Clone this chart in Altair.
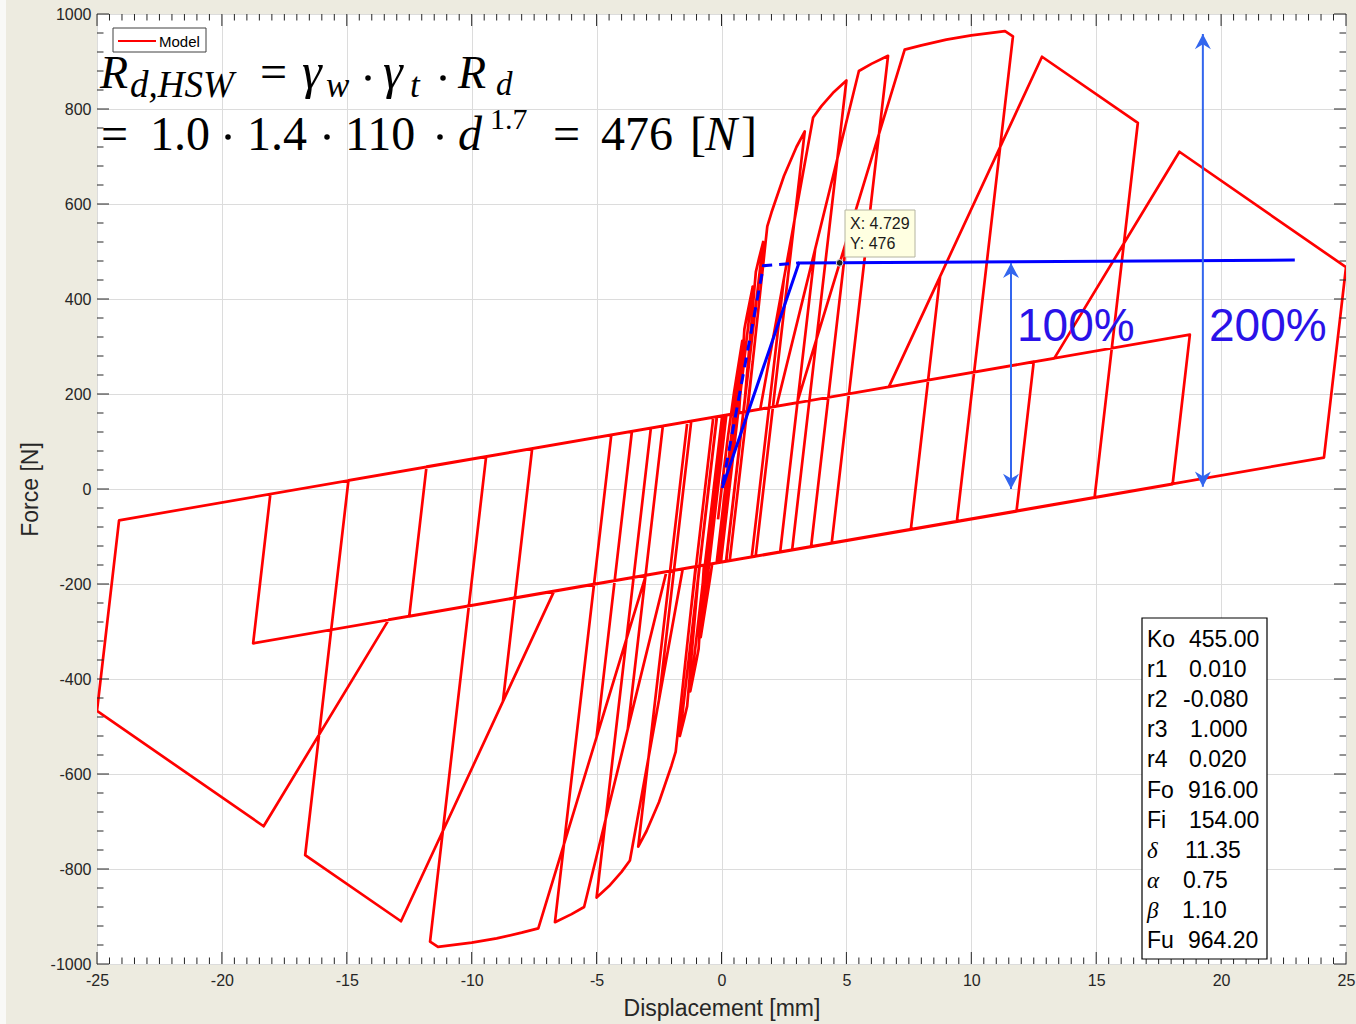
import altair as alt
import pandas as pd

# ------------------------------------------------------------------
# Data
# ------------------------------------------------------------------
# Hysteresis path (displacement [mm], force [N]) in drawing order
hyst_points = [
    (-0.14, -64), (0, 0), (0.25, 107), (0.5, 202), (0.833, 312),
    (-0.195, -156), (-0.37, -157), (-0.5, -202), (-0.833, -312),
    (0.195, 156), (0.702, 160), (0.833, 268),
    (-0.096, -155), (-0.702, -160), (-0.833, -268),
    (0.096, 155), (0.702, 160), (0.917, 337), (1.0, 360), (1.25, 426),
    (-0.025, -154), (-0.702, -160), (-0.917, -337), (-1.0, -360), (-1.25, -426),
    (0.025, 154), (0.889, 162), (0.9375, 191),
    (0.182, -152), (-0.889, -162), (-0.9375, -191),
    (-0.182, 152), (0.889, 162), (1.375, 457), (1.5, 485), (1.667, 520),
    (0.190, -152), (-0.889, -162), (-1.375, -457), (-1.5, -485), (-1.667, -520),
    (-0.190, 152), (1.036, 163), (1.25, 268),
    (0.329, -151), (-1.036, -163), (-1.25, -268),
    (-0.329, 151), (1.036, 163), (1.833, 553), (2.0, 582), (2.5, 659), (3.0, 720), (3.333, 753),
    (1.367, -142), (-1.036, -163), (-1.833, -553), (-2.0, -582), (-2.5, -659), (-3.0, -720), (-3.333, -753),
    (-1.367, 142), (1.551, 168), (2.5, 443),
    (1.211, -143), (-1.551, -168), (-2.5, -443),
    (-1.211, 143), (1.551, 168), (3.667, 782), (4.0, 806), (4.5, 836), (5.0, 860),
    (2.828, -128), (-1.551, -168), (-3.667, -782), (-4.0, -806), (-4.5, -836), (-5.0, -860),
    (-2.828, 128), (2.203, 174), (3.75, 505),
    (2.348, -133), (-2.203, -174), (-3.75, -505),
    (-2.348, 133), (2.203, 174), (5.5, 880), (6.0, 895), (6.667, 912),
    (4.412, -114), (-2.203, -174), (-5.5, -880), (-6.0, -895), (-6.667, -912),
    (-4.412, 114), (3.029, 182), (5.0, 522),
    (3.587, -121), (-3.029, -182), (-5.0, -522),
    (-3.587, 121), (3.029, 182), (7.333, 925), (8.0, 934), (9.0, 946), (10.0, 955),
    (11.35, 964), (11.667, 953),
    (9.423, -68), (-3.029, -182), (-7.333, -925), (-8.0, -934), (-9.0, -946), (-10.0, -955),
    (-11.35, -964), (-11.667, -953),
    (-9.423, 68), (6.70, 215), (8.75, 447),
    (7.580, -85), (-6.70, -215), (-8.75, -447),
    (-7.580, 85), (6.70, 215), (12.83, 910), (16.667, 771),
    (14.934, -18), (-6.70, -215), (-12.83, -910), (-16.667, -771),
    (-14.934, 18), (12.5, 268),
    (11.809, -47), (-12.5, -268),
    (-11.809, 47), (13.32, 275), (18.33, 710), (25.0, 467),
    (24.117, 66), (-13.32, -275), (-18.33, -710), (-25.0, -467),
    (-24.117, -66), (18.75, 325),
    (18.059, 10), (-18.75, -325),
    (-18.059, -10),
]

blue_solid_d = [0.03, 3.10, 22.95]
blue_solid_f = [2, 476, 482]
blue_dash_d = [0.05, 1.68, 3.10]
blue_dash_f = [10, 470, 476]

tip_d = [4.729]
tip_f = [476]

arrow_d = [11.59, 19.27]
arrow_lo = [0, 5]
arrow_hi = [476, 958]

param_labels = ["Ko", "r1", "r2", "r3", "r4", "Fo", "Fi", "δ", "α", "β", "Fu"]
param_values = ["455.00", "0.010", "-0.080", "1.000", "0.020", "916.00",
                "154.00", "11.35", "0.75", "1.10", "964.20"]

x_major = list(range(-25, 26, 5))
y_major = list(range(-1000, 1001, 200))
x_minor = [v / 2 for v in range(-50, 51) if v % 10 != 0]
y_minor = [v for v in range(-1000, 1001, 40) if v % 200 != 0]

# ------------------------------------------------------------------
# Layout
# ------------------------------------------------------------------
W, H = 1249, 950
X0, Y0 = 97, 14          # page position of the plot area
SANS = "Liberation Sans"
SERIF = "Liberation Serif"
AXC = "#262626"

xs = alt.Scale(domain=[-25, 25], nice=False, zero=False)
ys = alt.Scale(domain=[-1000, 1000], nice=False, zero=False)
x_axis = alt.Axis(values=x_major, grid=True, ticks=False, domain=False,
                  labelExpr="'' + datum.value", title="Displacement [mm]",
                  labelFlush=False, labelPadding=8, titlePadding=9)
y_axis = alt.Axis(values=y_major, grid=True, ticks=False, domain=False,
                  labelExpr="'' + datum.value", title="Force [N]",
                  labelFlush=False, labelPadding=6, titlePadding=8)
one = pd.DataFrame({"k": [0]})


def X(field):
    return alt.X(field, scale=xs, axis=x_axis)


def Y(field):
    return alt.Y(field, scale=ys, axis=y_axis)


def text_at(s, px, py, size, font=SANS, italic=False, color="#000000", align="left"):
    return alt.Chart(one).mark_text(
        text=s, font=font, fontSize=size, fontStyle="italic" if italic else "normal",
        color=color, align=align, baseline="alphabetic"
    ).encode(x=alt.value(px - X0), y=alt.value(py - Y0))


def box(x1, y1, x2, y2, fill, stroke, sw=1.0):
    return alt.Chart(one).mark_rect(fill=fill, stroke=stroke, strokeWidth=sw).encode(
        x=alt.value(x1 - X0), x2=alt.value(x2 - X0), y=alt.value(y1 - Y0), y2=alt.value(y2 - Y0)
    )


def dot(px, py, size=30):
    return alt.Chart(one).mark_point(filled=True, color="#000000", size=size, opacity=1).encode(
        x=alt.value(px - X0), y=alt.value(py - Y0)
    )


layers = []

# thin light strip at the far left edge of the figure
layers.append(alt.Chart(one).mark_rect(fill="#f9f9f7", strokeWidth=0).encode(
    x=alt.value(0 - X0), x2=alt.value(6 - X0), y=alt.value(0 - Y0), y2=alt.value(1024 - Y0)))

# main hysteresis line
hyst_df = pd.DataFrame({
    "d": [p[0] for p in hyst_points],
    "f": [p[1] for p in hyst_points],
    "i": list(range(len(hyst_points))),
})
layers.append(alt.Chart(hyst_df).mark_line(
    color="#ff0000", strokeWidth=2.7, strokeJoin="round", clip=True
).encode(x=X("d:Q"), y=Y("f:Q"), order="i:Q"))


# ticks (inward, all four sides)
def tick_layers(vals, length):
    d = pd.DataFrame({"v": vals})
    return [
        alt.Chart(d).mark_rule(color=AXC, strokeWidth=1).encode(
            x=X("v:Q"), y=alt.value(H), y2=alt.value(H - length)),
        alt.Chart(d).mark_rule(color=AXC, strokeWidth=1).encode(
            x=X("v:Q"), y=alt.value(0), y2=alt.value(length)),
    ]


def ytick_layers(vals, length):
    d = pd.DataFrame({"v": vals})
    return [
        alt.Chart(d).mark_rule(color=AXC, strokeWidth=1).encode(
            y=Y("v:Q"), x=alt.value(0), x2=alt.value(length)),
        alt.Chart(d).mark_rule(color=AXC, strokeWidth=1).encode(
            y=Y("v:Q"), x=alt.value(W), x2=alt.value(W - length)),
    ]


layers += tick_layers(x_major, 12) + tick_layers(x_minor, 6.5)
layers += ytick_layers(y_major, 12) + ytick_layers(y_minor, 6.5)

# blue bilinear lines
bs = pd.DataFrame({"d": blue_solid_d, "f": blue_solid_f, "i": [0, 1, 2]})
bd = pd.DataFrame({"d": blue_dash_d, "f": blue_dash_f, "i": [0, 1, 2]})
layers.append(alt.Chart(bs).mark_line(color="#0000ff", strokeWidth=3).encode(
    x=X("d:Q"), y=Y("f:Q"), order="i:Q"))
layers.append(alt.Chart(bd).mark_line(color="#0000ff", strokeWidth=3, strokeDash=[10, 7]).encode(
    x=X("d:Q"), y=Y("f:Q"), order="i:Q"))

# arrows
ARC = "#3366ee"
adf = pd.DataFrame({"d": arrow_d, "lo": arrow_lo, "hi": arrow_hi})
layers.append(alt.Chart(adf).mark_rule(color=ARC, strokeWidth=2).encode(
    x=X("d:Q"), y=Y("lo:Q"), y2="hi:Q"))
up_head = "M0,0 L1,1.9 L0,1.3 L-1,1.9 Z"
down_head = "M0,0 L1,-1.9 L0,-1.3 L-1,-1.9 Z"
layers.append(alt.Chart(adf).mark_point(shape=up_head, filled=True, color=ARC, size=256, opacity=1).encode(
    x=X("d:Q"), y=Y("hi:Q")))
layers.append(alt.Chart(adf).mark_point(shape=down_head, filled=True, color=ARC, size=256, opacity=1).encode(
    x=X("d:Q"), y=Y("lo:Q")))

# percentage labels
PCT = "#2a12e8"
layers.append(text_at("100%", 1017, 341, 46, color=PCT))
layers.append(text_at("200%", 1209, 341, 46, color=PCT))

# data tip
tdf = pd.DataFrame({"d": tip_d, "f": tip_f})
layers.append(alt.Chart(tdf).mark_point(filled=True, fill="#222222", stroke="#dddddd",
                                        strokeWidth=1, size=45, opacity=1).encode(
    x=X("d:Q"), y=Y("f:Q")))
layers.append(box(845, 210, 915, 257, "#ffffe1", "#b4b4a0", 1))
layers.append(text_at("X: 4.729", 850, 229, 16, color="#1a1a1a"))
layers.append(text_at("Y: 476", 850, 249, 16, color="#1a1a1a"))

# legend
layers.append(box(113, 28, 206, 52, "#ffffff", "#404040", 1))
layers.append(alt.Chart(one).mark_rule(color="#ff0000", strokeWidth=2).encode(
    x=alt.value(118 - X0), x2=alt.value(156 - X0), y=alt.value(41 - Y0)))
layers.append(text_at("Model", 159, 47, 15))

# equation, line 1
layers.append(text_at("R", 100, 88, 46, font=SERIF, italic=True))
layers.append(text_at("d,HSW", 130, 97, 37, font=SERIF, italic=True))
layers.append(text_at("=", 260, 88, 48, font=SERIF))
layers.append(text_at("γ", 302, 88, 50, font=SERIF, italic=True))
layers.append(text_at("w", 326, 97, 35, font=SERIF, italic=True))
layers.append(dot(368, 78))
layers.append(text_at("γ", 383, 88, 50, font=SERIF, italic=True))
layers.append(text_at("t", 410, 97, 35, font=SERIF, italic=True))
layers.append(dot(443, 78))
layers.append(text_at("R", 458, 88, 46, font=SERIF, italic=True))
layers.append(text_at("d", 496, 95, 33, font=SERIF, italic=True))

# equation, line 2
layers.append(text_at("=", 101, 150, 48, font=SERIF))
layers.append(text_at("1.0", 150, 150, 48, font=SERIF))
layers.append(dot(228, 137))
layers.append(text_at("1.4", 247, 150, 48, font=SERIF))
layers.append(dot(327, 137))
layers.append(text_at("110", 345, 150, 48, font=SERIF))
layers.append(dot(440, 137))
layers.append(text_at("d", 458, 150, 48, font=SERIF, italic=True))
layers.append(text_at("1.7", 490, 129, 30, font=SERIF))
layers.append(text_at("=", 553, 150, 48, font=SERIF))
layers.append(text_at("476", 601, 150, 48, font=SERIF))
layers.append(text_at("[", 690, 150, 48, font=SERIF))
layers.append(text_at("N", 705, 150, 48, font=SERIF, italic=True))
layers.append(text_at("]", 741, 150, 48, font=SERIF))

# parameter box
layers.append(box(1142, 618, 1267, 959, "#ffffff", "#000000", 1.2))
value_x = [1189, 1189, 1183, 1190, 1189, 1188, 1189, 1185, 1183, 1182, 1188]
for k, (lab, val) in enumerate(zip(param_labels, param_values)):
    base = 647 + 30.1 * k
    greek = lab in ("δ", "α", "β")
    layers.append(text_at(lab, 1147, base, 23, font=SERIF if greek else SANS, italic=greek))
    layers.append(text_at(val, value_x[k], base, 23))

chart = alt.layer(*layers).properties(
    width=W, height=H,
    autosize=alt.AutoSizeParams(type="none"),
    padding={"left": X0, "top": Y0, "right": 1356 - X0 - W, "bottom": 1024 - Y0 - H},
    background="#edebe0",
).configure_view(
    fill="#ffffff", stroke=AXC, strokeWidth=1
).configure_axis(
    labelFont=SANS, labelFontSize=16, labelColor=AXC,
    titleFont=SANS, titleFontSize=23, titleFontWeight="normal", titleColor=AXC,
    gridColor="#dcdcdc", gridWidth=1, gridOpacity=1,
)

chart.save("out.html", embed_options={"renderer": "svg", "actions": False})
